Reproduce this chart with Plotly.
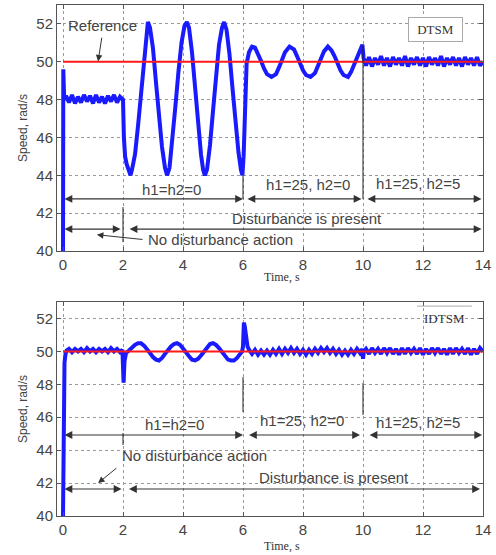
import plotly.graph_objects as go

# ---------------- data ----------------
x_ticks = [0, 2, 4, 6, 8, 10, 12, 14]
y_ticks = [40, 42, 44, 46, 48, 50, 52]

ref_time = [0, 14]
ref_speed = [50, 50]

# DTSM (top panel)
dtsm_time = [0.0, 0.01, 0.04,
             0.1, 0.2, 0.3, 0.4, 0.5, 0.6, 0.7, 0.8, 0.9, 1.0, 1.1, 1.2, 1.3, 1.4, 1.5, 1.6, 1.7, 1.8, 1.9,
             2.0, 2.03, 2.07, 2.12, 2.2, 2.25, 2.3,
             2.4, 2.5, 2.6, 2.7, 2.77, 2.83, 2.9, 3.0, 3.1, 3.2, 3.3, 3.4, 3.47,
             3.55, 3.65, 3.75, 3.85, 3.95, 4.05, 4.13, 4.2, 4.3, 4.4, 4.5, 4.6, 4.67, 4.73,
             4.8, 4.9, 5.0, 5.1, 5.2, 5.3, 5.37, 5.45, 5.55, 5.65, 5.75, 5.85, 5.93, 5.98,
             6.02, 6.05, 6.08, 6.12, 6.2, 6.3, 6.4, 6.5, 6.6, 6.7, 6.8, 6.95, 7.1, 7.2, 7.3, 7.4,
             7.55, 7.7, 7.8, 7.9, 8.0, 8.1, 8.25, 8.4, 8.5, 8.6, 8.7, 8.83, 8.95, 9.05, 9.15,
             9.25, 9.35, 9.5, 9.6, 9.7, 9.8, 9.9, 9.98,
             10.02, 10.1, 10.2, 10.3, 10.4, 10.5, 10.6, 10.7, 10.8, 10.9, 11.0, 11.1, 11.2, 11.3,
             11.4, 11.5, 11.6, 11.7, 11.8, 11.9, 12.0, 12.1, 12.2, 12.3, 12.4, 12.5, 12.6, 12.7,
             12.8, 12.9, 13.0, 13.1, 13.2, 13.3, 13.4, 13.5, 13.6, 13.7, 13.8, 13.9, 14.0]
dtsm_speed = [40.0, 49.6, 48.0,
              48.2, 47.85, 48.25, 47.8, 48.15, 47.85, 48.25, 47.9, 48.2, 47.8, 48.25, 47.85, 48.15,
              47.8, 48.2, 47.9, 48.25, 47.85, 48.15,
              48.0, 46.0, 45.0, 44.6, 44.2, 44.0, 44.3,
              45.1, 46.6, 48.4, 50.3, 51.6, 52.1, 51.8, 50.7, 48.9, 47.1, 45.5, 44.4, 44.0,
              44.4, 45.9, 47.7, 49.5, 51.0, 51.9, 52.1, 51.8, 50.5, 48.7, 46.8, 45.1, 44.3, 44.0,
              44.3, 45.6, 47.4, 49.3, 50.9, 51.8, 52.1, 51.7, 50.4, 48.6, 46.8, 45.2, 44.3, 44.0,
              45.0, 47.0, 48.8, 49.9, 50.5, 50.8, 50.75, 50.45, 50.05, 49.65, 49.35, 49.2, 49.35,
              49.7, 50.1, 50.5,
              50.8, 50.65, 50.3, 49.9, 49.55, 49.3, 49.2, 49.4, 49.75, 50.2, 50.55, 50.8, 50.6,
              50.3, 49.9,
              49.55, 49.3, 49.2, 49.45, 49.85, 50.3, 50.6, 50.9,
              50.2, 49.8, 50.25, 49.75, 50.2, 49.85, 50.3, 49.8, 50.2, 49.75, 50.25, 49.85, 50.2,
              49.8, 50.3, 49.75, 50.2, 49.85, 50.25, 49.8, 50.2, 49.75, 50.25, 49.85, 50.2, 49.8,
              50.3, 49.75, 50.2, 49.85, 50.25, 49.8, 50.2, 49.75, 50.25, 49.85, 50.2, 49.8, 50.25,
              49.8, 50.0]

# IDTSM (bottom panel)
idtsm_time = [0.0, 0.01, 0.03, 0.05, 0.08, 0.12,
              0.2, 0.3, 0.4, 0.5, 0.6, 0.7, 0.8, 0.9, 1.0, 1.1, 1.2, 1.3, 1.4, 1.5, 1.6, 1.7, 1.8, 1.9,
              1.98, 2.0, 2.02, 2.05, 2.1,
              2.2, 2.3, 2.4, 2.5, 2.6, 2.7, 2.8, 2.9, 3.0, 3.1, 3.2, 3.3, 3.4, 3.5, 3.6, 3.7, 3.8,
              3.9, 4.0, 4.1, 4.2, 4.3, 4.4, 4.5, 4.6, 4.7, 4.8, 4.9, 5.0, 5.1, 5.2, 5.3, 5.4, 5.5,
              5.6, 5.7, 5.8, 5.9,
              5.97, 6.0, 6.03, 6.06, 6.1, 6.15, 6.2,
              6.3, 6.4, 6.5, 6.6, 6.7, 6.8, 6.9, 7.0, 7.1, 7.2, 7.3, 7.4, 7.5, 7.6, 7.7, 7.8, 7.9,
              8.0, 8.1, 8.2, 8.3, 8.4, 8.5, 8.6, 8.7, 8.8, 8.9, 9.0, 9.1, 9.2, 9.3, 9.4, 9.5, 9.6,
              9.7, 9.8, 9.9,
              9.98, 10.0, 10.03,
              10.1, 10.2, 10.3, 10.4, 10.5, 10.6, 10.7, 10.8, 10.9, 11.0, 11.1, 11.2, 11.3,
              11.4, 11.5, 11.6, 11.7, 11.8, 11.9, 12.0, 12.1, 12.2, 12.3, 12.4, 12.5, 12.6, 12.7,
              12.8, 12.9, 13.0, 13.1, 13.2, 13.3, 13.4, 13.5, 13.6, 13.7, 13.8, 13.9, 14.0]
idtsm_speed = [40.0, 43.5, 47.5, 49.3, 49.8, 50.05,
               50.15, 49.95, 50.15, 50.0, 50.15, 49.95, 50.2, 50.0, 50.15, 49.95, 50.15, 50.0,
               50.15, 49.95, 50.2, 50.0, 50.15, 49.95,
               50.1, 49.5, 48.1, 49.4, 49.9,
               50.05, 50.25, 50.4, 50.5, 50.5, 50.35, 50.15, 49.9, 49.65, 49.5, 49.45, 49.6, 49.85,
               50.1, 50.3, 50.45, 50.5,
               50.4, 50.2, 49.95, 49.7, 49.5, 49.45, 49.55, 49.75, 50.0, 50.25, 50.45, 50.5,
               50.4, 50.2, 49.95, 49.7, 49.5, 49.45, 49.45, 49.6, 49.8,
               50.0, 50.3, 51.75, 51.5, 50.8, 50.3, 50.1,
               49.85, 50.1, 49.8, 50.05, 49.8, 50.05, 49.8, 50.1, 49.85, 50.15, 49.85, 50.15, 49.9,
               50.2, 49.9, 50.15, 49.85, 50.1, 49.8, 50.1, 49.85, 50.15, 49.9, 50.2, 49.95, 50.2,
               49.9, 50.15, 49.85, 50.1, 49.8, 50.05, 49.8, 50.1, 49.85, 50.15, 49.9,
               50.15, 49.55, 50.0,
               50.15, 49.85, 50.2, 49.9, 50.15, 49.85, 50.2, 49.9, 50.2, 49.85, 50.15, 49.8, 50.2,
               49.85, 50.2, 49.9, 50.15, 49.85, 50.2, 49.8, 50.15, 49.85, 50.2, 49.9, 50.2, 49.85,
               50.15, 49.8, 50.2, 49.85, 50.2, 49.9, 50.15, 49.85, 50.2, 49.8, 50.15, 49.85, 50.2,
               50.0]

# ---------------- styles ----------------
BLUE = "#1a1aff"
RED = "#ff1a1a"
SANS = "Liberation Sans, Arial, sans-serif"
SERIF = "Liberation Serif, Times New Roman, serif"
TXT = "#444444"
ARROW = "#333333"

fig = go.Figure()
fig.add_trace(go.Scatter(x=dtsm_time, y=dtsm_speed, mode="lines",
                         line=dict(color=BLUE, width=4), xaxis="x", yaxis="y",
                         showlegend=False, hoverinfo="skip"))
fig.add_trace(go.Scatter(x=ref_time, y=ref_speed, mode="lines",
                         line=dict(color=RED, width=2), xaxis="x", yaxis="y",
                         showlegend=False, hoverinfo="skip"))
fig.add_trace(go.Scatter(x=idtsm_time, y=idtsm_speed, mode="lines",
                         line=dict(color=BLUE, width=4), xaxis="x2", yaxis="y2",
                         showlegend=False, hoverinfo="skip"))
fig.add_trace(go.Scatter(x=ref_time, y=ref_speed, mode="lines",
                         line=dict(color=RED, width=2), xaxis="x2", yaxis="y2",
                         showlegend=False, hoverinfo="skip"))

axis_common = dict(
    showline=True, linecolor="#555555", linewidth=1, mirror="ticks",
    ticks="inside", ticklen=4, tickcolor="#555555",
    showgrid=True, gridcolor="#999999", griddash="dot", gridwidth=1,
    zeroline=False, tickfont=dict(family=SANS, size=15, color=TXT),
)

fig.update_layout(
    width=496, height=555,
    margin=dict(l=57, r=13, t=5, b=39),
    paper_bgcolor="white", plot_bgcolor="white",
    xaxis=dict(axis_common, domain=[0, 1], range=[-0.2, 14], tickvals=x_ticks,
               anchor="y"),
    yaxis=dict(axis_common, domain=[0.5186, 1], range=[40, 53], tickvals=y_ticks,
               anchor="x",
               title=dict(text="Speed, rad/s", font=dict(family=SANS, size=12, color=TXT),
                          standoff=6)),
    xaxis2=dict(axis_common, domain=[0, 1], range=[-0.2, 14], tickvals=x_ticks,
                anchor="y2"),
    yaxis2=dict(axis_common, domain=[0, 0.4188], range=[40, 53], tickvals=y_ticks,
                anchor="x2",
                title=dict(text="Speed, rad/s", font=dict(family=SANS, size=12, color=TXT),
                           standoff=6)),
)

ann = []
shapes = []


def darrow(xr, yr, x0, x1, y, both=True):
    ann.append(dict(xref=xr, yref=yr, axref=xr, ayref=yr, x=x1, y=y, ax=x0, ay=y,
                    text="", showarrow=True, arrowhead=2, startarrowhead=2,
                    arrowside="end+start" if both else "end",
                    arrowsize=1.3, startarrowsize=1.3, arrowwidth=1.2, arrowcolor=ARROW))


def label(xr, yr, x, y, text, size=15, xanchor="center"):
    ann.append(dict(xref=xr, yref=yr, x=x, y=y, text=text, showarrow=False,
                    xanchor=xanchor, yanchor="middle",
                    font=dict(family=SANS, size=size, color=TXT)))


def vline(xr, yr, x, y0, y1):
    shapes.append(dict(type="line", xref=xr, yref=yr, x0=x, x1=x, y0=y0, y1=y1,
                       line=dict(color="#222222", width=1)))


# x-axis titles (placed as paper annotations to sit close to the tick labels)
for ypos in (0.4677, -0.0587):
    ann.append(dict(xref="paper", yref="paper", x=0.527, y=ypos, text="Time, s",
                    showarrow=False, xanchor="center", yanchor="middle",
                    font=dict(family=SERIF, size=12, color="#333333")))

# ---- top panel annotations ----
darrow("x", "y", 0.0, 6.0, 42.75)
darrow("x", "y", 6.1, 9.95, 42.75)
darrow("x", "y", 10.1, 13.95, 42.75)
darrow("x", "y", 0.0, 1.92, 41.16)
darrow("x", "y", 2.17, 13.95, 41.16)
label("x", "y", 3.6, 43.25, "h1=h2=0")
label("x", "y", 8.15, 43.5, "h1=25, h2=0")
label("x", "y", 11.83, 43.55, "h1=25, h2=5")
label("x", "y", 8.12, 41.74, "Disturbance is present")
label("x", "y", 2.78, 40.6, "No disturbance action", xanchor="left")
ann.append(dict(xref="x", yref="y", axref="x", ayref="y", x=1.13, y=40.86, ax=2.7, ay=40.6,
                text="", showarrow=True, arrowhead=2, arrowsize=1.3, arrowwidth=1,
                arrowcolor=ARROW))
label("x", "y", 1.3, 51.94, "Reference")
ann.append(dict(xref="x", yref="y", axref="x", ayref="y", x=1.17, y=50.02, ax=1.3, ay=51.35,
                text="", showarrow=True, arrowhead=2, arrowsize=1.3, arrowwidth=1,
                arrowcolor=ARROW))
ann.append(dict(xref="x", yref="y", x=12.42, y=51.7, text="DTSM", showarrow=False,
                font=dict(family=SERIF, size=13, color="#333333"),
                width=53, height=23, borderpad=0,
                bordercolor="#aaaaaa", borderwidth=1, bgcolor="white"))
vline("x", "y", 2.0, 40.47, 42.32)
vline("x", "y", 6.0, 42.75, 44.0)
vline("x", "y", 10.0, 42.75, 50.9)

# ---- bottom panel annotations ----
darrow("x2", "y2", 0.0, 6.0, 44.92)
darrow("x2", "y2", 6.15, 9.9, 44.92)
darrow("x2", "y2", 10.17, 13.97, 44.92)
darrow("x2", "y2", 0.0, 1.95, 41.64)
darrow("x2", "y2", 2.15, 13.9, 41.64)
label("x2", "y2", 3.73, 45.53, "h1=h2=0")
label("x2", "y2", 7.98, 45.8, "h1=25, h2=0")
label("x2", "y2", 11.82, 45.7, "h1=25, h2=5")
label("x2", "y2", 9.02, 42.31, "Disturbance is present")
label("x2", "y2", 1.9, 43.7, "No disturbance action", xanchor="left")
ann.append(dict(xref="x2", yref="y2", axref="x2", ayref="y2", x=1.17, y=42.0, ax=1.83, ay=42.98,
                text="", showarrow=True, arrowhead=2, arrowsize=1.3, arrowwidth=1,
                arrowcolor=ARROW))
ann.append(dict(xref="x2", yref="y2", x=12.73, y=51.97, text="IDTSM", showarrow=False,
                font=dict(family=SERIF, size=13, color="#333333")))
shapes.append(dict(type="line", xref="x2", yref="y2", x0=11.8, x1=13.63, y0=52.75, y1=52.75,
                   line=dict(color="#aaaaaa", width=1)))
vline("x2", "y2", 2.0, 44.31, 45.04)
vline("x2", "y2", 6.0, 46.32, 48.44)
vline("x2", "y2", 10.0, 46.14, 48.08)

fig.update_layout(annotations=ann, shapes=shapes)
fig.write_html("out.html", config={"displayModeBar": False},
               post_script="document.body.style.margin='0px';document.body.style.overflow='hidden';")
